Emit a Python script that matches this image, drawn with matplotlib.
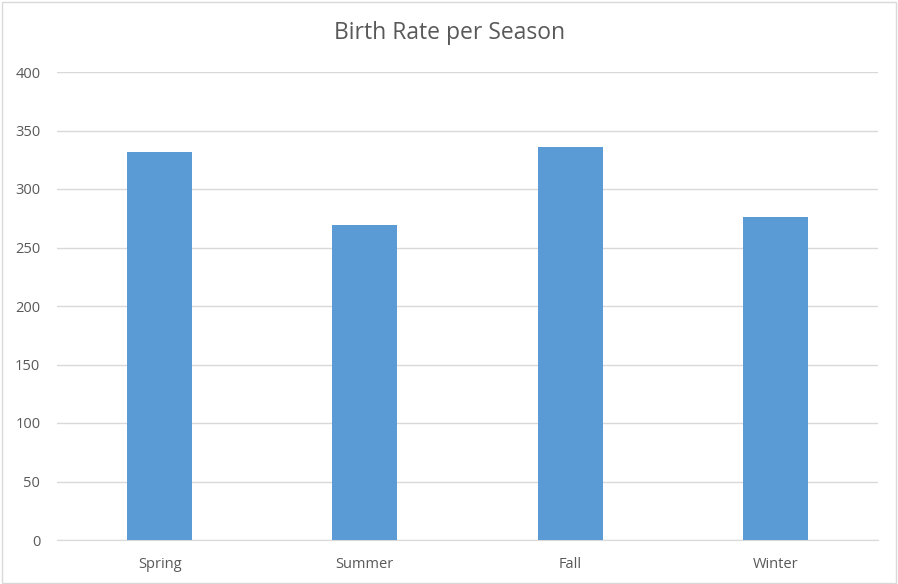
import matplotlib
matplotlib.use('Agg')
import matplotlib.pyplot as plt
from matplotlib.patches import Rectangle

seasons = ['Spring', 'Summer', 'Fall', 'Winter']
births = [332, 269, 336, 276]
y_ticks = [0, 50, 100, 150, 200, 250, 300, 350, 400]

fig = plt.figure(figsize=(8.98, 5.84), dpi=100)
plt.rcParams['font.family'] = ['Open Sans', 'DejaVu Sans']

ax = fig.add_axes([57 / 898, 1 - 540 / 584, 821 / 898, 468 / 584])

x = list(range(len(seasons)))
ax.bar(x, births, width=0.317, color='#5b9bd5', zorder=3)

ax.set_xlim(-0.5, len(seasons) - 0.5)
ax.set_ylim(0, 400)
ax.set_yticks(y_ticks)
ax.set_xticks(x)
ax.set_xticklabels(seasons)
ax.tick_params(axis='both', length=0, colors='#595959', labelsize=10.5)
ax.tick_params(axis='y', pad=12)
ax.tick_params(axis='x', pad=12)
ax.grid(axis='y', color='#d9d9d9', linewidth=1, zorder=0)
for side in ['top', 'right', 'left']:
    ax.spines[side].set_visible(False)
ax.spines['bottom'].set_color('#d9d9d9')

fig.text(450 / 898, 1 - 33 / 584, 'Birth Rate per Season', ha='center', va='center',
         fontsize=16.5, color='#595959')

fig.patches.append(Rectangle((0.002, 0.002), 0.996, 0.995, transform=fig.transFigure,
                             fill=False, edgecolor='#d9d9d9', linewidth=1))

plt.savefig('out.png', dpi=100)
plt.close(fig)
